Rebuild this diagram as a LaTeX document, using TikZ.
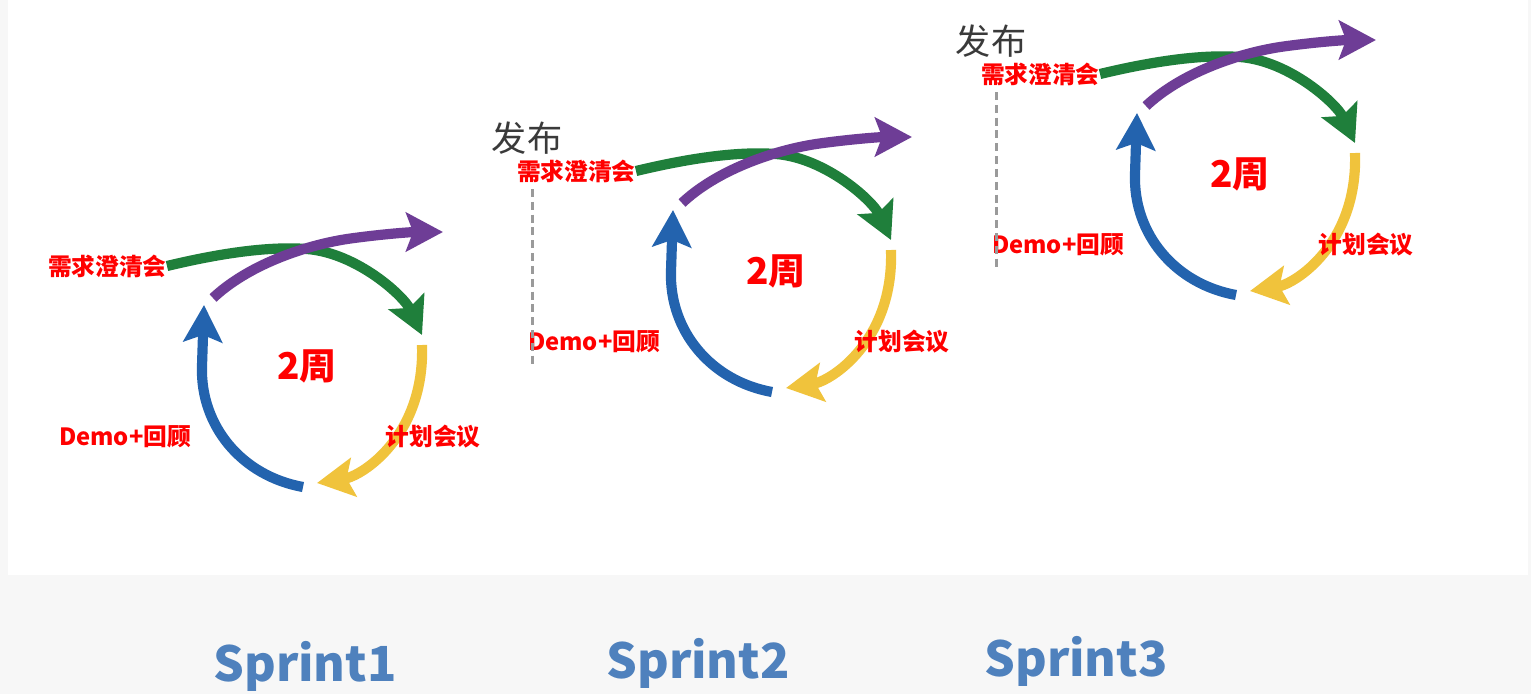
\documentclass[tikz,border=0pt]{standalone}
\usepackage{fontspec}
\setmainfont{Noto Sans CJK SC}
\usetikzlibrary{arrows.meta}
\definecolor{cgreen}{HTML}{1F7F3B}
\definecolor{cpurple}{HTML}{6E3D96}
\definecolor{cyellow}{HTML}{F0C33C}
\definecolor{cblue}{HTML}{2363AE}
\definecolor{cred}{HTML}{FF0000}
\definecolor{cdark}{HTML}{3A3A3A}
\definecolor{cgrey}{HTML}{9A9A9A}
\definecolor{csprint}{HTML}{4F81BD}
\definecolor{cback}{HTML}{F7F7F7}
\tikzset{
  ring/.style={draw=#1, line width=5.8pt, -{Stealth[length=21pt, width=22pt, inset=4pt]}},
  tag/.style={font=\bfseries\fontsize{13.5}{13.5}\selectfont, text=cred, inner sep=0pt},
  weeks/.style={font=\bfseries\fontsize{21}{21}\selectfont, text=cred, inner sep=0pt},
  pubtext/.style={font=\fontsize{20}{20}\selectfont, text=cdark, inner sep=0pt},
  publine/.style={draw=cgrey, line width=1.7pt, dash pattern=on 4.5pt off 2.8pt},
  sprint/.style={font=\bfseries\fontsize{27.5}{27.5}\selectfont, text=csprint, inner sep=0pt},
}

\begin{document}
\begin{tikzpicture}[x=0.02cm, y=0.02cm]
  % page: grey band with the white sheet on top
  \fill[cback] (0,0) rectangle (1531,-694);
  \fill[white] (8,0) rectangle (1528,-575);

  % one iteration loop per sprint, each climbing a step higher
  \foreach \i/\cx/\cy in {1/312/-376, 2/781/-281, 3/1245/-184} {
    \begin{scope}[shift={(\cx,\cy)}]
      \node[tag, anchor=east] (req\i) at (-145,110) {需求澄清会};
      \draw[ring=cgreen] (req\i.east) .. controls (-95,122) and (-45,130) .. (-5,127)
        .. controls (45,123) and (92,80) .. (110,41);
      \draw[ring=cpurple] (-99,78) .. controls (-65,110) and (-10,130) .. (35,137)
        .. controls (70,142) and (100,144) .. (131,144);
      \draw[ring=cyellow] (110,31) .. controls (113,-60) and (50,-100) .. (5,-107);
      \draw[ring=cblue] (-9,-111) .. controls (-70,-100) and (-112,-50) .. (-110,10) -- (-108,71);
      % labels sit on top of the arcs
      \node[tag] (demo\i) at (-187,-61) {Demo+回顾};
      \node[tag] (plan\i) at (121,-61) {计划会议};
      \node[weeks] (len\i) at (-5,10) {2周};
      \ifnum\i>1
        \node[pubtext] (pub\i) at (-254,143) {发布};
        \draw[publine] (-249,92) -- (-249,-83);
      \fi
    \end{scope}
  }

  \foreach \i/\sx/\sy in {1/305/-681, 2/698/-678, 3/1076/-676}
    \node[sprint, anchor=base] (sprint\i) at (\sx,\sy) {Sprint\i};
\end{tikzpicture}
\end{document}
